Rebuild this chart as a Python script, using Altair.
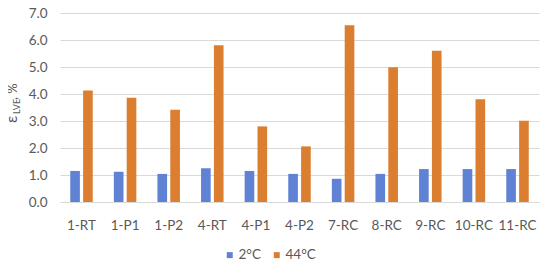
import altair as alt
import pandas as pd

categories = ["1-RT", "1-P1", "1-P2", "4-RT", "4-P1", "4-P2", "7-RC", "8-RC", "9-RC", "10-RC", "11-RC"]
series = ["2°C", "44°C"]
vals_2c = [1.15, 1.12, 1.04, 1.25, 1.15, 1.04, 0.86, 1.04, 1.22, 1.22, 1.22]
vals_44c = [4.13, 3.86, 3.42, 5.81, 2.80, 2.06, 6.55, 4.99, 5.60, 3.81, 3.01]
colors = ["#6082D4", "#DC7E30"]

rows = []
for c, a, b in zip(categories, vals_2c, vals_44c):
    rows.append({"cat": c, "series": series[0], "value": a})
    rows.append({"cat": c, "series": series[1], "value": b})
df = pd.DataFrame(rows)

FONT = "Lato"
GRAY = "#595959"

bars = alt.Chart(df).mark_bar().encode(
    x=alt.X("cat:N", sort=categories,
            scale=alt.Scale(paddingInner=0.484, paddingOuter=0.235),
            axis=alt.Axis(title=None, labelAngle=0, ticks=False, domain=False,
                          labelPadding=16, labelFontSize=13.5, labelColor=GRAY, labelFont=FONT)),
    xOffset=alt.XOffset("series:N", sort=series, scale=alt.Scale(paddingInner=0.25, paddingOuter=0)),
    y=alt.Y("value:Q", scale=alt.Scale(domain=[0, 7], nice=False),
            axis=alt.Axis(title=None, values=[0, 1, 2, 3, 4, 5, 6, 7], format=".1f",
                          ticks=False, domain=False, gridColor="#d9d9d9", gridWidth=1,
                          labelPadding=13, labelFontSize=13.5, labelColor=GRAY, labelFont=FONT)),
    color=alt.Color("series:N", sort=series,
                    scale=alt.Scale(domain=series, range=colors),
                    legend=alt.Legend(title=None, orient="none", direction="horizontal",
                                      legendX=163, legendY=235, symbolType="square",
                                      symbolSize=36, labelFontSize=13.5, labelColor=GRAY,
                                      labelFont=FONT, labelOffset=2, columnPadding=9,
                                      symbolStrokeWidth=0)),
)

one = alt.Data(values=[{}])
t_eps = alt.Chart(one).mark_text(angle=270, align="left", baseline="alphabetic", font=FONT,
                                 fontSize=16, color=GRAY).encode(
    x=alt.value(-43), y=alt.value(110), text=alt.value("ε"))
t_sub = alt.Chart(one).mark_text(angle=270, align="left", baseline="alphabetic", font=FONT,
                                 fontSize=9, color=GRAY).encode(
    x=alt.value(-40.5), y=alt.value(101), text=alt.value("LVE"))
t_rest = alt.Chart(one).mark_text(angle=270, align="left", baseline="alphabetic", font=FONT,
                                  fontSize=13, color=GRAY).encode(
    x=alt.value(-43), y=alt.value(87), text=alt.value(", %"))

chart = alt.layer(bars, t_eps, t_sub, t_rest).properties(
    width=479, height=189,
    autosize=alt.AutoSizeParams(type="none"),
    padding={"left": 52, "top": 5, "right": 3, "bottom": 58},
).configure_view(stroke=None)

chart.save("out.html", embed_options={"renderer": "svg", "actions": False})
